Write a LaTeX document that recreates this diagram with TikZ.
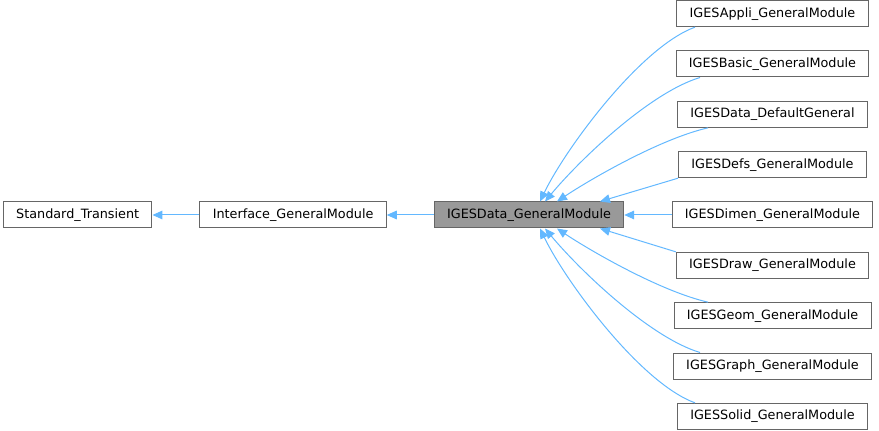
\documentclass[tikz,border=0pt]{standalone}
\usepackage{fontspec}
\setmainfont{DejaVu Sans}
\usetikzlibrary{arrows.meta, positioning, calc}

\definecolor{edgeblue}{HTML}{63B8FF}
\definecolor{boxline}{HTML}{666666}
\definecolor{genfill}{HTML}{999999}

\begin{document}
\begin{tikzpicture}[
    x=0.75pt, y=-0.75pt,
    node distance = 17.5pt and 35.25pt,
    font=\fontsize{9.6}{11}\selectfont,
    cls/.style = {draw=boxline, fill=white, line width=0.75pt, rectangle, minimum height=19.5pt, inner xsep=9.6pt, inner ysep=0pt},
    inh/.style = {draw=edgeblue, line width=0.75pt, -{Triangle[length=7.5pt, width=6.5pt]}}
]
\useasboundingbox (0,0) rectangle (879,431);

% =========================================================
% LEFT ROW: base classes
% =========================================================
\node[cls, fill=genfill] (gen) at (529,215) {IGESData\_GeneralModule};
\node[cls, left=of gen] (intf) {Interface\_GeneralModule};
\node[cls, left=of intf] (std) {Standard\_Transient};

% =========================================================
% RIGHT COLUMN: derived modules
% =========================================================
\node[cls] (dimen) at (772.5,215) {IGESDimen\_GeneralModule};
\node[cls, above=of dimen] (defs) {IGESDefs\_GeneralModule};
\node[cls, above=of defs] (defgen) {IGESData\_DefaultGeneral};
\node[cls, above=of defgen] (basic) {IGESBasic\_GeneralModule};
\node[cls, above=of basic] (appli) {IGESAppli\_GeneralModule};
\node[cls, below=of dimen] (drw) {IGESDraw\_GeneralModule};
\node[cls, below=of drw] (geom) {IGESGeom\_GeneralModule};
\node[cls, below=of geom] (graph) {IGESGraph\_GeneralModule};
\node[cls, below=of graph] (solid) {IGESSolid\_GeneralModule};

% =========================================================
% WIRING: base chain
% =========================================================
\draw[inh] (intf.west) -- (std.east);
\draw[inh] (gen.west) -- (intf.east);

% =========================================================
% WIRING: upper children into top of gen
% =========================================================
\draw[inh] ($(appli.south)+(-77.5,0)$) .. controls +(-55,20) and +(25,-52) .. ($(gen.north)+(11,0)$);
\draw[inh] ($(basic.south)+(-72.5,0)$) .. controls +(-50,15) and +(35,-42) .. ($(gen.north)+(16,0)$);
\draw[inh] ($(defgen.south)+(-64.5,0)$) .. controls +(-48,11) and +(33,-22) .. ($(gen.north)+(28,0)$);
\draw[inh] (defs.south west) -- ($(gen.north)+(71,0)$);
\draw[inh] (dimen.west) -- (gen.east);

% =========================================================
% WIRING: lower children into bottom of gen
% =========================================================
\draw[inh] (drw.north west) -- ($(gen.south)+(71,0)$);
\draw[inh] ($(geom.north)+(-64.5,0)$) .. controls +(-48,-11) and +(33,22) .. ($(gen.south)+(28,0)$);
\draw[inh] ($(graph.north)+(-72.5,0)$) .. controls +(-50,-15) and +(35,42) .. ($(gen.south)+(16,0)$);
\draw[inh] ($(solid.north)+(-77.5,0)$) .. controls +(-55,-20) and +(25,52) .. ($(gen.south)+(11,0)$);

\end{tikzpicture}
\end{document}
